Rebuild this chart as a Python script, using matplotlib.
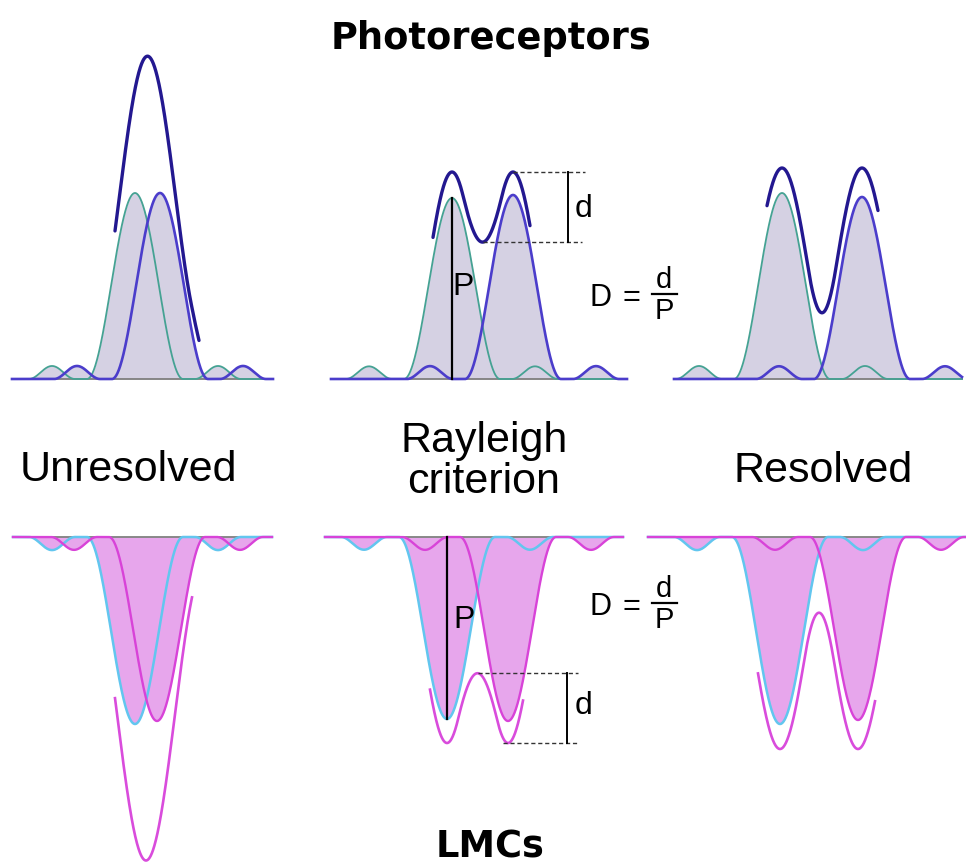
import numpy as np
import matplotlib
matplotlib.use("Agg")
import matplotlib.pyplot as plt

# ---------------- data ----------------
# positions along the receptor array (px) and peak intensities (px)
panel_titles = ["Unresolved", "Rayleigh", "criterion", "Resolved"]
row_titles = ["Photoreceptors", "LMCs"]

top_centers_a = [135, 452, 782]     # first point image (teal)
top_centers_b = [160, 513, 862]     # second point image (blue)
top_peak_a = [186, 181, 186]
top_peak_b = [186, 184, 182]
top_sum_amp = [183, 207, 211]       # combined response (navy)
top_sum_width = [56, 50, 54]

bot_centers_a = [135, 447, 780]     # first point image (cyan)
bot_centers_b = [157, 508, 858]     # second point image (magenta)
bot_peak_a = [187, 182, 187]
bot_peak_b = [184, 184, 183]
bot_sum_amp = [177, 206, 212]       # combined response (magenta)
bot_sum_width = [58, 50, 54]

main_halfwidth = 48
side_lobe_inner, side_lobe_outer, side_lobe_height = 60, 106, 0.07

# ---------------- layout / style ----------------
W, H = 966, 866
TOP_BASE, BOT_BASE = 379, 537
top_spans = [(12, 273), (331, 627), (674, 962)]
bot_spans = [(13, 272), (325, 623), (648, 966)]
top_sum_spans = [(115, 199), (433, 530), (767, 878)]
bot_sum_spans = [(115, 192), (430, 523), (758, 875)]

C_TEAL, C_BLUE, C_NAVY = "#45a293", "#4b3dcb", "#231890"
C_TOPFILL = "#d5d1e3"
C_CYAN, C_MAG, C_MAGSUM = "#62c6ef", "#d843d8", "#d94cdc"
C_BOTFILL = "#e7a6ec"
C_BASE = "#7f7f7f"

REG = ["Liberation Sans", "DejaVu Sans"]
BOLD = ["DejaVu Sans"]


def main_lobe(x, c, r):
    d = np.abs(x - c)
    return np.where(d < r, np.cos(np.pi * d / (2 * r)) ** 2, 0.0)


def psf(x, c, amp):
    d = np.abs(x - c)
    y = main_lobe(x, c, main_halfwidth)
    a, b = side_lobe_inner, side_lobe_outer
    y = y + np.where((d > a) & (d < b),
                     side_lobe_height * np.sin(np.pi * (d - a) / (b - a)) ** 2, 0.0)
    return amp * y


fig = plt.figure(figsize=(W / 100, H / 100), dpi=100)
ax = fig.add_axes([0, 0, 1, 1])
ax.set_xlim(0, W)
ax.set_ylim(H, 0)
ax.axis("off")

for i in range(3):
    # ---------- photoreceptors (upward) ----------
    x0, x1 = top_spans[i]
    x = np.linspace(x0, x1, 800)
    ya = psf(x, top_centers_a[i], top_peak_a[i])
    yb = psf(x, top_centers_b[i], top_peak_b[i])
    ax.fill_between(x, TOP_BASE, TOP_BASE - np.maximum(ya, yb), color=C_TOPFILL, lw=0, zorder=1)
    ax.plot([x0, x1], [TOP_BASE, TOP_BASE], color=C_BASE, lw=1.3, zorder=2)
    ax.plot(x, TOP_BASE - ya, color=C_TEAL, lw=1.3, zorder=3)
    ax.plot(x, TOP_BASE - yb, color=C_BLUE, lw=1.9, zorder=4)
    s0, s1 = top_sum_spans[i]
    xs = np.linspace(s0, s1, 400)
    ys = top_sum_amp[i] * (main_lobe(xs, top_centers_a[i], top_sum_width[i])
                           + main_lobe(xs, top_centers_b[i], top_sum_width[i]))
    ax.plot(xs, TOP_BASE - ys, color=C_NAVY, lw=2.4, zorder=5, solid_capstyle="round")

    if i == 1:
        # P line
        ax.plot([top_centers_a[i]] * 2, [TOP_BASE, TOP_BASE - top_peak_a[i]], color="black", lw=1.6, zorder=6)
        ymax = TOP_BASE - ys.max()
        xmid = 0.5 * (top_centers_a[i] + top_centers_b[i])
        ydip = TOP_BASE - top_sum_amp[i] * (main_lobe(xmid, top_centers_a[i], top_sum_width[i])
                                            + main_lobe(xmid, top_centers_b[i], top_sum_width[i]))
        ax.plot([top_centers_b[i], 585], [ymax, ymax], color="#333333", lw=1.0, ls=(0, (3, 2)), zorder=6)
        ax.plot([xmid, 582], [ydip, ydip], color="#333333", lw=1.0, ls=(0, (3, 2)), zorder=6)
        ax.plot([568, 568], [ymax, ydip], color="black", lw=1.4, zorder=6)
        ax.text(463, 287, "P", fontsize=23, family=REG, ha="center", va="center")
        ax.text(583, 209, "d", fontsize=23, family=REG, ha="center", va="center")

    # ---------- LMCs (downward) ----------
    x0, x1 = bot_spans[i]
    x = np.linspace(x0, x1, 800)
    ya = psf(x, bot_centers_a[i], bot_peak_a[i])
    yb = psf(x, bot_centers_b[i], bot_peak_b[i])
    ax.fill_between(x, BOT_BASE, BOT_BASE + np.maximum(ya, yb), color=C_BOTFILL, lw=0, zorder=1)
    ax.plot([x0, x1], [BOT_BASE, BOT_BASE], color=C_BASE, lw=1.3, zorder=2)
    ax.plot(x, BOT_BASE + ya, color=C_CYAN, lw=1.8, zorder=3)
    ax.plot(x, BOT_BASE + yb, color=C_MAG, lw=1.7, zorder=4)
    s0, s1 = bot_sum_spans[i]
    xs = np.linspace(s0, s1, 400)
    ys = bot_sum_amp[i] * (main_lobe(xs, bot_centers_a[i], bot_sum_width[i])
                           + main_lobe(xs, bot_centers_b[i], bot_sum_width[i]))
    ax.plot(xs, BOT_BASE + ys, color=C_MAGSUM, lw=1.9, zorder=5)

    if i == 1:
        ax.plot([bot_centers_a[i]] * 2, [BOT_BASE, BOT_BASE + bot_peak_a[i]], color="black", lw=1.6, zorder=6)
        ymax = BOT_BASE + ys.max()
        xmid = 0.5 * (bot_centers_a[i] + bot_centers_b[i])
        yhump = BOT_BASE + bot_sum_amp[i] * (main_lobe(xmid, bot_centers_a[i], bot_sum_width[i])
                                             + main_lobe(xmid, bot_centers_b[i], bot_sum_width[i]))
        ax.plot([xmid, 578], [yhump, yhump], color="#333333", lw=1.0, ls=(0, (3, 2)), zorder=6)
        ax.plot([bot_centers_b[i] - 5, 578], [ymax, ymax], color="#333333", lw=1.0, ls=(0, (3, 2)), zorder=6)
        ax.plot([567, 567], [yhump, ymax], color="black", lw=1.4, zorder=6)
        ax.text(464, 620, "P", fontsize=23, family=REG, ha="center", va="center")
        ax.text(583, 706, "d", fontsize=23, family=REG, ha="center", va="center")

# D = d/P equations
for yc in (298, 607):
    ax.text(601, yc, "D", fontsize=22, family=REG, ha="center", va="center")
    ax.text(631, yc, "=", fontsize=22, family=REG, ha="center", va="center")
    ax.text(664, yc - 18, "d", fontsize=21, family=REG, ha="center", va="center")
    ax.plot([652, 677], [yc - 4, yc - 4], color="black", lw=1.6)
    ax.text(664, yc + 13, "P", fontsize=21, family=REG, ha="center", va="center")

# titles
ax.text(491, 49, row_titles[0], fontsize=26.5, family=BOLD, weight="bold", ha="center", va="baseline")
ax.text(490, 857, row_titles[1], fontsize=26.5, family=BOLD, weight="bold", ha="center", va="baseline")
ax.text(128, 481, panel_titles[0], fontsize=31, family=REG, ha="center", va="baseline")
ax.text(484, 452, panel_titles[1], fontsize=31, family=REG, ha="center", va="baseline")
ax.text(484, 493, panel_titles[2], fontsize=31, family=REG, ha="center", va="baseline")
ax.text(823, 482, panel_titles[3], fontsize=31, family=REG, ha="center", va="baseline")

fig.savefig("out.png", dpi=100)
